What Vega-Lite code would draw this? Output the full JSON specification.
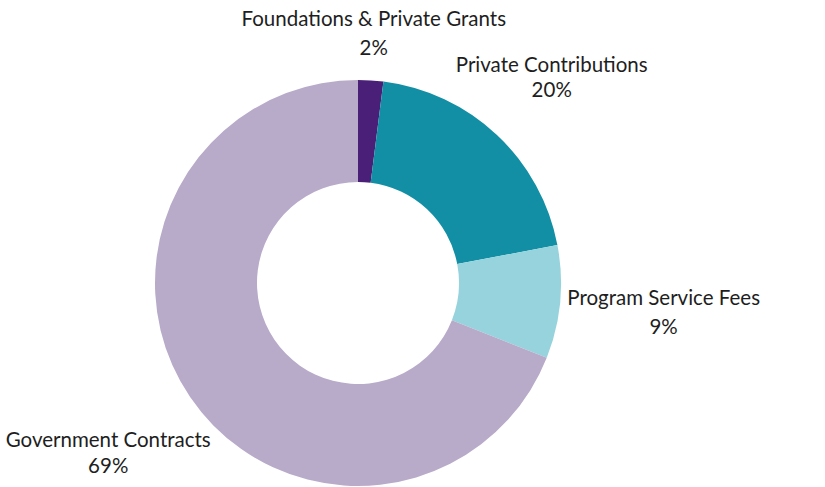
{
  "$schema": "https://vega.github.io/schema/vega-lite/v6.json",
  "width": 716,
  "height": 408,
  "autosize": "none",
  "padding": {"left": 0, "top": 79, "right": 109, "bottom": 0},
  "background": "white",
  "config": {"view": {"stroke": null}, "font": "Lato"},
  "data": {
    "values": [
      {"category": "Foundations & Private Grants", "value": 2},
      {"category": "Private Contributions", "value": 20},
      {"category": "Program Service Fees", "value": 9},
      {"category": "Government Contracts", "value": 69}
    ]
  },
  "transform": [
    {"calculate": "[datum.category, datum.value + '%']", "as": "label"},
    {"calculate": "indexof(['Foundations & Private Grants', 'Private Contributions', 'Program Service Fees', 'Government Contracts'], datum.category)", "as": "rank"}
  ],
  "encoding": {
    "theta": {"field": "value", "type": "quantitative", "stack": true},
    "order": {"field": "rank", "type": "quantitative", "sort": "ascending"}
  },
  "layer": [
    {
      "mark": {"type": "arc", "innerRadius": 101, "outerRadius": 203},
      "encoding": {
        "color": {
          "field": "category",
          "type": "nominal",
          "scale": {
            "domain": ["Foundations & Private Grants", "Private Contributions", "Program Service Fees", "Government Contracts"],
            "range": ["#4A1F78", "#128FA5", "#97D3DD", "#B8AAC9"]
          },
          "legend": null
        }
      }
    },
    {
      "mark": {"type": "text", "radius": 251, "dy": -12, "fontSize": 20.5, "lineHeight": 29, "color": "#1e1e1e", "align": "center", "baseline": "middle"},
      "encoding": {"text": {"condition": {"test": "datum.rank === 0", "field": "label"}, "value": ""}}
    },
    {
      "mark": {"type": "text", "radius": 283, "dy": -11, "fontSize": 20.5, "lineHeight": 25, "color": "#1e1e1e", "align": "center", "baseline": "middle"},
      "encoding": {"text": {"condition": {"test": "datum.rank === 1", "field": "label"}, "value": ""}}
    },
    {
      "mark": {"type": "text", "radius": 307, "dy": -13, "fontSize": 20.5, "lineHeight": 29, "color": "#1e1e1e", "align": "center", "baseline": "middle"},
      "encoding": {"text": {"condition": {"test": "datum.rank === 2", "field": "label"}, "value": ""}}
    },
    {
      "mark": {"type": "text", "radius": 302, "dy": -12, "fontSize": 20.5, "lineHeight": 26, "color": "#1e1e1e", "align": "center", "baseline": "middle"},
      "encoding": {"text": {"condition": {"test": "datum.rank === 3", "field": "label"}, "value": ""}}
    }
  ]
}
